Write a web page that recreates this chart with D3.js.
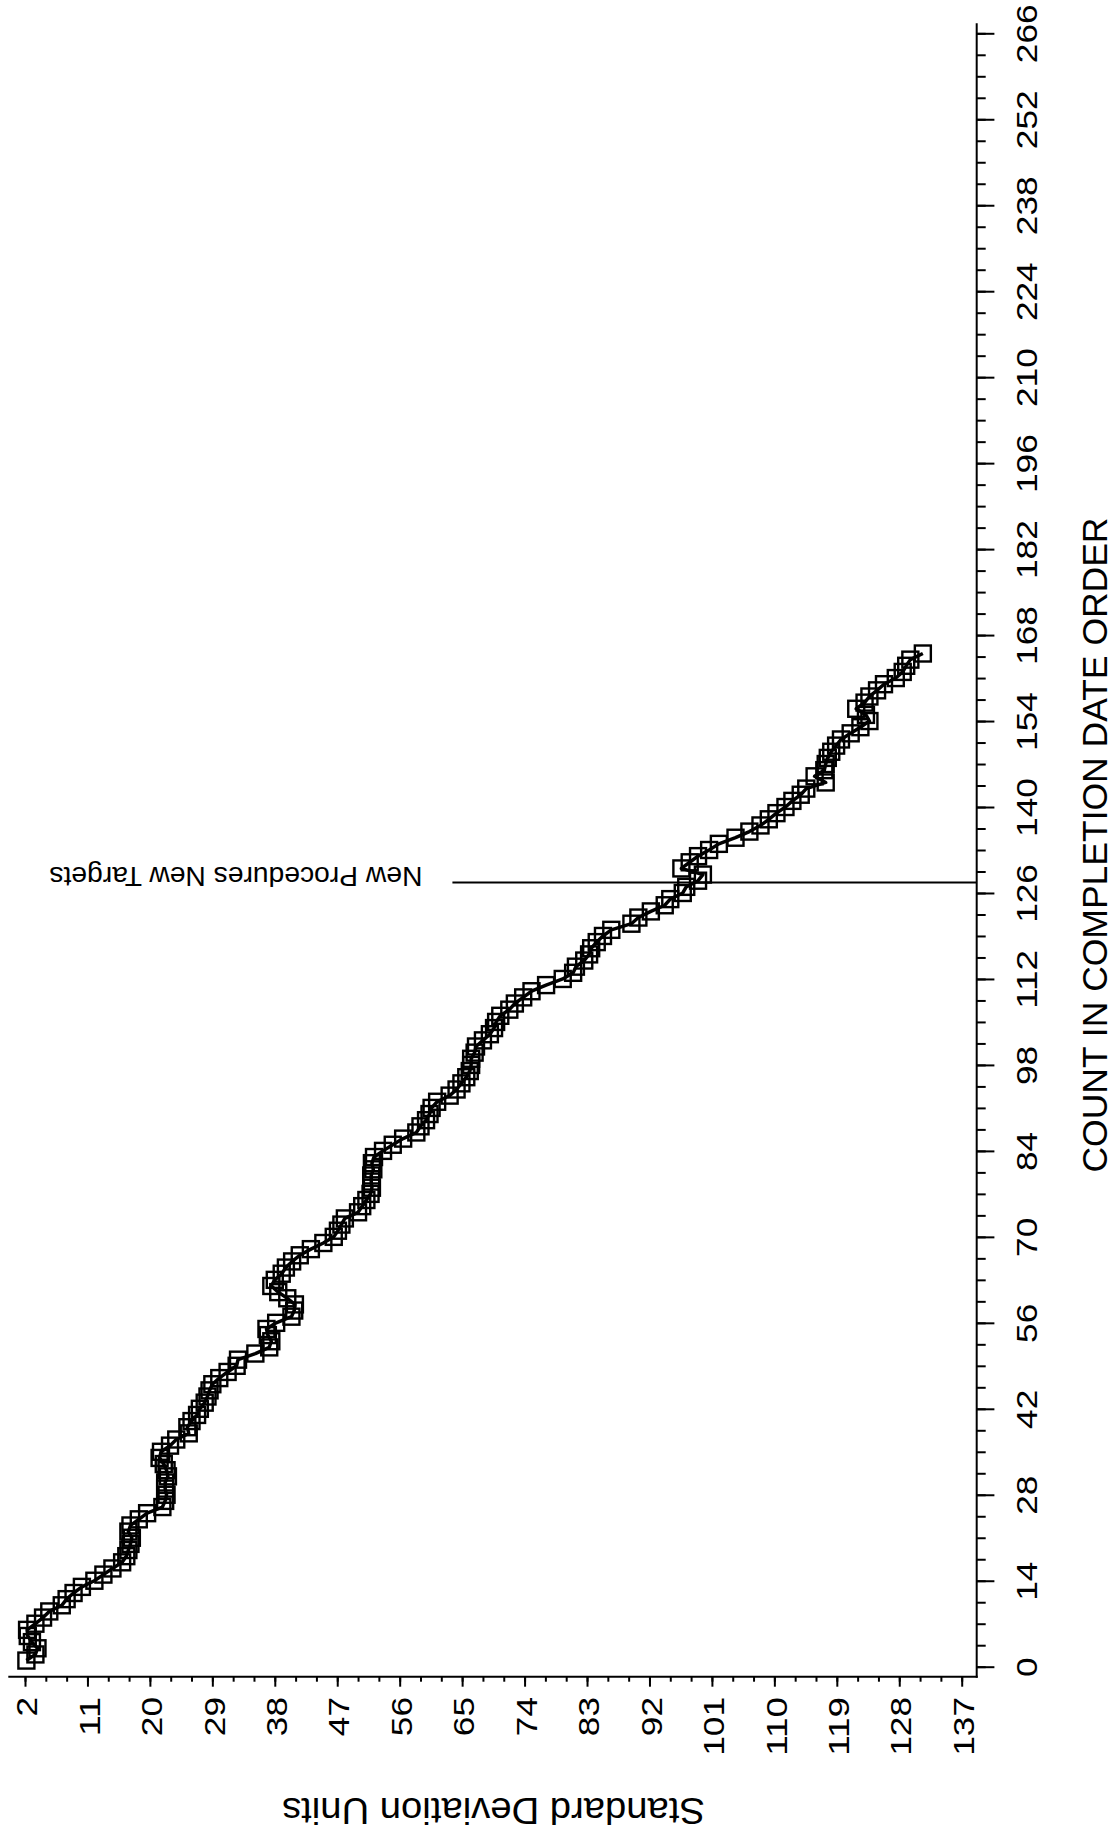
<!DOCTYPE html>
<meta charset="utf-8">
<title>Count in completion date order</title>
<style>
  body { margin: 0; background: #fff; }
  svg { display: block; background: #fff; }
  text { font-family: "Liberation Sans", Arial, sans-serif; fill: #000; }
  .axis path.domain { display: none; }
  .axis line { stroke: #000; stroke-width: 2px; }
  .frame { stroke: #000; stroke-width: 2px; }
  .series { fill: none; stroke: #000; stroke-width: 3.5px; stroke-linejoin: round; }
  .marks rect { fill: none; stroke: #000; stroke-width: 2.4px; }
</style>
<svg width="1112" height="1838"></svg>
<script src="https://cdn.jsdelivr.net/npm/d3@7"></script>
<script>
  // standard deviation units, one value per record (count 1, 2, 3 ...)
  var sdUnits = [
    2.2, 3.5, 3.8, 3.0, 2.4, 2.3, 3.5, 4.6, 5.5, 7.3,
    8.0, 9.0, 10.2, 12.0, 13.3, 14.6, 16.0, 16.6, 16.9, 17.2,
    17.4, 16.9, 17.2, 18.4, 19.6, 21.8, 22.2, 22.4, 22.2, 22.2,
    22.6, 22.4, 22.0, 21.4, 21.6, 22.9, 23.8, 25.6, 25.4, 26.0,
    26.8, 27.2, 27.9, 28.3, 28.6, 29.0, 30.0, 31.2, 32.5, 32.7,
    35.2, 37.2, 37.5, 37.0, 36.8, 38.2, 40.4, 40.8, 40.9, 39.8,
    38.5, 37.5, 38.0, 39.0, 39.6, 40.5, 41.6, 43.2, 45.0, 46.5,
    47.1, 47.6, 48.1, 50.0, 50.6, 51.2, 51.8, 52.0, 51.9, 51.9,
    52.2, 52.0, 52.3, 53.6, 55.0, 56.5, 58.4, 59.0, 59.8, 60.3,
    60.6, 61.4, 63.2, 64.2, 64.9, 65.6, 66.1, 66.3, 66.3, 66.8,
    67.0, 68.0, 69.0, 69.6, 69.9, 70.5, 71.8, 72.6, 73.8, 75.0,
    77.1, 79.5, 81.0, 81.4, 82.6, 83.3, 83.6, 84.4, 85.3, 86.5,
    89.4, 90.4, 92.2, 94.2, 95.0, 96.8, 97.3, 99.0, 99.7, 96.6,
    97.8, 99.0, 100.6, 102.0, 104.4, 106.4, 108.0, 109.2, 110.3, 111.6,
    112.6, 113.8, 114.6, 117.4, 115.8, 117.2, 117.4, 117.7, 118.2, 118.9,
    119.6, 121.0, 122.4, 123.7, 123.2, 121.8, 123.0, 123.7, 124.8, 125.8,
    127.5, 128.5, 129.0, 129.6, 131.4
  ];

  var countTicks = [0, 14, 28, 42, 56, 70, 84, 98, 112, 126, 140, 154, 168,
    182, 196, 210, 224, 238, 252, 266];
  var sdTicks = [2, 11, 20, 29, 38, 47, 56, 65, 74, 83, 92, 101, 110, 119, 128, 137];

  var eventCount = 127.7,
    eventFromSd = 63.6,
    eventLabel = "New Procedures New Targets";

  var countTitle = "COUNT IN COMPLETION DATE ORDER",
    sdTitle = "Standard Deviation Units";

  var svg = d3.select("svg");

  // page is drawn turned a quarter: count runs upward, SD units run rightward
  var y = d3.scaleLinear().domain([0, 266]).range([1666.7, 33.3]),
    x = d3.scaleLinear().domain([2, 137]).range([25, 961.7]);

  var axisX = 976.7,
    axisY = 1676.7;

  var points = sdUnits.map(function(v, i) {
    return { count: i + 1, sd: v };
  });

  // frame lines
  svg.append("line").attr("class", "frame")
    .attr("x1", axisX).attr("x2", axisX)
    .attr("y1", 23.3).attr("y2", axisY + 1);
  svg.append("line").attr("class", "frame")
    .attr("x1", 8.3).attr("x2", axisX + 1)
    .attr("y1", axisY).attr("y2", axisY);

  // count axis (right)
  svg.append("g").attr("class", "axis")
    .attr("transform", "translate(" + axisX + ",0)")
    .call(d3.axisRight(y).tickValues(d3.range(0, 266.1, 3.5)).tickSize(9).tickSizeOuter(0).tickFormat(""));

  var countAxis = svg.append("g").attr("class", "axis")
    .attr("transform", "translate(" + axisX + ",0)")
    .call(d3.axisRight(y).tickValues(countTicks).tickSize(17.7).tickSizeOuter(0));

  countAxis.selectAll(".tick text")
    .attr("x", null).attr("dy", null)
    .attr("transform", "translate(60.3,0) rotate(-90)")
    .attr("text-anchor", "middle")
    .style("font-size", "30px")
    .attr("textLength", function(d) { return String(d).length * 19.6; })
    .attr("lengthAdjust", "spacingAndGlyphs");

  // SD axis (bottom)
  svg.append("g").attr("class", "axis")
    .attr("transform", "translate(0," + axisY + ")")
    .call(d3.axisBottom(x).tickValues(d3.range(2, 137.1, 3)).tickSize(5).tickSizeOuter(0).tickFormat(""));

  var sdAxis = svg.append("g").attr("class", "axis")
    .attr("transform", "translate(0," + axisY + ")")
    .call(d3.axisBottom(x).tickValues(sdTicks).tickSize(10).tickSizeOuter(0));

  sdAxis.selectAll(".tick text")
    .attr("y", null).attr("dy", null)
    .attr("transform", "translate(11.7,20.3) rotate(-90)")
    .attr("text-anchor", "end")
    .style("font-size", "30px")
    .attr("textLength", function(d) { return String(d).length * 19.6; })
    .attr("lengthAdjust", "spacingAndGlyphs");

  // axis titles
  svg.append("text")
    .attr("transform", "translate(1107,845) rotate(-90)")
    .attr("text-anchor", "middle")
    .style("font-size", "35px")
    .attr("textLength", 655)
    .attr("lengthAdjust", "spacingAndGlyphs")
    .text(countTitle);

  svg.append("text")
    .attr("transform", "translate(705,1798.3) rotate(180)")
    .attr("text-anchor", "start")
    .style("font-size", "37px")
    .attr("textLength", 423)
    .attr("lengthAdjust", "spacingAndGlyphs")
    .text(sdTitle);

  // event marker
  svg.append("line").attr("class", "frame")
    .attr("x1", x(eventFromSd)).attr("x2", axisX)
    .attr("y1", y(eventCount)).attr("y2", y(eventCount));

  svg.append("text")
    .attr("transform", "translate(" + (x(eventFromSd) - 30) + "," + (y(eventCount) - 15.8) + ") rotate(180)")
    .attr("text-anchor", "start")
    .style("font-size", "28px")
    .attr("textLength", 373)
    .attr("lengthAdjust", "spacingAndGlyphs")
    .text(eventLabel);

  // series
  var line = d3.line()
    .x(function(d) { return x(d.sd); })
    .y(function(d) { return y(d.count); });

  svg.append("path")
    .datum(points)
    .attr("class", "series")
    .attr("d", line);

  svg.append("g").attr("class", "marks")
    .selectAll("rect")
    .data(points)
    .enter().append("rect")
    .attr("x", function(d) { return x(d.sd) - 8; })
    .attr("y", function(d) { return y(d.count) - 8; })
    .attr("width", 16)
    .attr("height", 16);
</script>
